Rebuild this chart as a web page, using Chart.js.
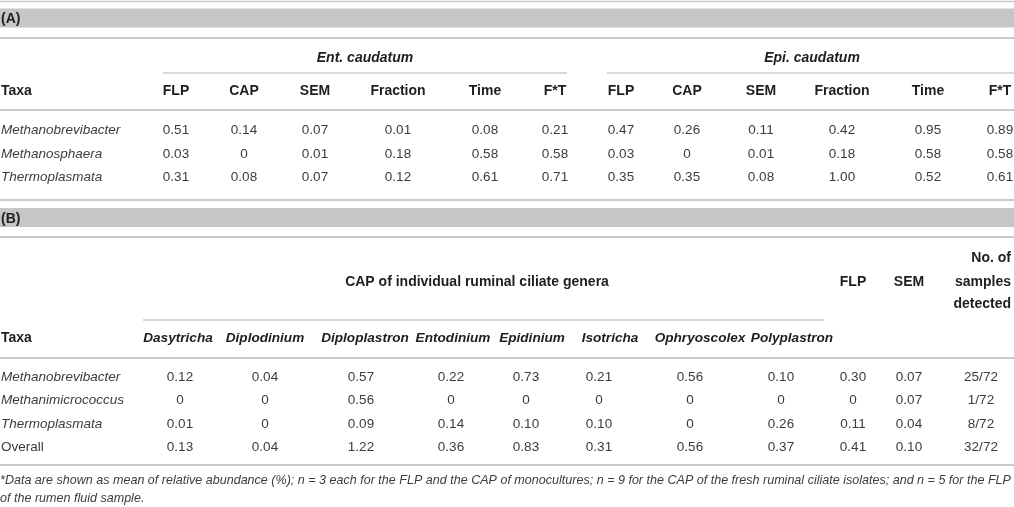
<!DOCTYPE html>
<html>
<head>
<meta charset="utf-8">
<script src="https://cdn.jsdelivr.net/npm/chart.js@4.4.1/dist/chart.umd.min.js"></script>
<style>
  html, body { margin: 0; padding: 0; background: #fff; }
  #wrap { width: 1014px; height: 507px; position: relative; }
</style>
</head>
<body>
<div id="wrap"><canvas id="tableChart"></canvas></div>
<script>
const taxaA = ["Methanobrevibacter", "Methanosphaera", "Thermoplasmata"];
const columnsA = ["FLP", "CAP", "SEM", "Fraction", "Time", "F*T"];
const groupsA = ["Ent. caudatum", "Epi. caudatum"];
const entCaudatum = [
    [0.51, 0.14, 0.07, 0.01, 0.08, 0.21],
    [0.03, 0, 0.01, 0.18, 0.58, 0.58],
    [0.31, 0.08, 0.07, 0.12, 0.61, 0.71]
];
const epiCaudatum = [
    [0.47, 0.26, 0.11, 0.42, 0.95, 0.89],
    [0.03, 0, 0.01, 0.18, 0.58, 0.58],
    [0.35, 0.35, 0.08, 1.00, 0.52, 0.61]
];

const taxaB = ["Methanobrevibacter", "Methanimicrococcus", "Thermoplasmata", "Overall"];
const genera = ["Dasytricha", "Diplodinium", "Diploplastron", "Entodinium", "Epidinium", "Isotricha", "Ophryoscolex", "Polyplastron"];
const capGenera = [
    [0.12, 0.04, 0.57, 0.22, 0.73, 0.21, 0.56, 0.10],
    [0, 0, 0.56, 0, 0, 0, 0, 0],
    [0.01, 0, 0.09, 0.14, 0.10, 0.10, 0, 0.26],
    [0.13, 0.04, 1.22, 0.36, 0.83, 0.31, 0.56, 0.37]
];
const flpB = [0.30, 0, 0.11, 0.41];
const semB = [0.07, 0.07, 0.04, 0.10];
const samplesDetected = [25, 1, 8, 32];
const samplesTotal = 72;

const footnote = [
    "*Data are shown as mean of relative abundance (%); n = 3 each for the FLP and the CAP of monocultures; n = 9 for the CAP of the fresh ruminal ciliate isolates; and n = 5 for the FLP",
    "of the rumen fluid sample."
];

// ---- layout ----
const W = 1014, H = 507;
const entX = [176, 244, 315, 398, 485, 555];
const epiX = [621, 687, 761, 842, 928, 1000];
const rowsA = [130, 154, 177];
const genusHeadX = [178, 265, 365, 453, 532, 610, 700, 792];
const genusX = [180, 265, 361, 451, 526, 599, 690, 781];
const flpX = 853, semX = 909, samplesX = 981, samplesHeadX = 1011;
const rowsB = [377, 400, 424, 447];

const FONT = "'Liberation Sans', Arial, sans-serif";
const styles = {
    head: { font: "bold 14px " + FONT, color: "#1e1e1e" },
    headIt: { font: "italic bold 14px " + FONT, color: "#1e1e1e" },
    genus: { font: "italic bold 13.6px " + FONT, color: "#1e1e1e" },
    body: { font: "13.5px " + FONT, color: "#3c3c3c" },
    bodyIt: { font: "italic 13.5px " + FONT, color: "#3c3c3c" },
    note: { font: "italic 11px " + FONT, color: "#3c3c3c" }
};

const fmt = v => v === 0 ? "0" : v.toFixed(2);

// a text group is a scatter dataset with hidden points; the plugin writes the text
function textSet(cells, style, align) {
    return {
        type: "scatter",
        data: cells,
        textStyle: style,
        textAlign: align || "center",
        pointRadius: 0,
        order: 0
    };
}

// a rule or band is a plain line dataset
function rule(x0, x1, y, width, color) {
    return {
        type: "line",
        data: [{ x: x0, y: y }, { x: x1, y: y }],
        borderColor: color,
        borderWidth: width,
        borderCapStyle: "butt",
        pointRadius: 0,
        fill: false,
        order: 5
    };
}

const datasets = [];

// rules and grey bands
datasets.push(rule(0, W, 1.5, 1.5, "#c9c9c9"));
datasets.push(rule(0, W, 18, 19, "#c5c6c8"));
datasets.push(rule(0, W, 38, 2, "#c9c9c9"));
datasets.push(rule(163, 567, 73, 1.5, "#cccccc"));
datasets.push(rule(607, W, 73, 1.5, "#cccccc"));
datasets.push(rule(0, W, 110, 2, "#c9c9c9"));
datasets.push(rule(0, W, 200, 2, "#c9c9c9"));
datasets.push(rule(0, W, 217.5, 19, "#c5c6c8"));
datasets.push(rule(0, W, 237, 2, "#c9c9c9"));
datasets.push(rule(143, 824, 320, 1.5, "#cccccc"));
datasets.push(rule(0, W, 358, 2, "#c9c9c9"));
datasets.push(rule(0, W, 465, 2, "#c9c9c9"));

// panel A
datasets.push(textSet([{ x: 1, y: 19.5, text: "(A)" }, { x: 1, y: 91, text: "Taxa" }], styles.head, "left"));
datasets.push(textSet([{ x: 365, y: 58, text: groupsA[0] }, { x: 812, y: 58, text: groupsA[1] }], styles.headIt));
datasets.push(textSet(columnsA.map((c, i) => ({ x: entX[i], y: 91, text: c }))
    .concat(columnsA.map((c, i) => ({ x: epiX[i], y: 91, text: c }))), styles.head));
datasets.push(textSet(taxaA.map((t, r) => ({ x: 1, y: rowsA[r], text: t })), styles.bodyIt, "left"));
const cellsA = [];
entCaudatum.forEach((row, r) => row.forEach((v, i) => cellsA.push({ x: entX[i], y: rowsA[r], text: fmt(v) })));
epiCaudatum.forEach((row, r) => row.forEach((v, i) => cellsA.push({ x: epiX[i], y: rowsA[r], text: fmt(v) })));
datasets.push(textSet(cellsA, styles.body));

// panel B
datasets.push(textSet([{ x: 1, y: 219, text: "(B)" }, { x: 1, y: 338, text: "Taxa" }], styles.head, "left"));
datasets.push(textSet([
    { x: 477, y: 282, text: "CAP of individual ruminal ciliate genera" },
    { x: flpX, y: 282, text: "FLP" },
    { x: semX, y: 282, text: "SEM" }
], styles.head));
datasets.push(textSet([
    { x: samplesHeadX, y: 258, text: "No. of" },
    { x: samplesHeadX, y: 282, text: "samples" },
    { x: samplesHeadX, y: 304, text: "detected" }
], styles.head, "right"));
datasets.push(textSet(genera.map((g, i) => ({ x: genusHeadX[i], y: 338, text: g })), styles.genus));
datasets.push(textSet(taxaB.slice(0, 3).map((t, r) => ({ x: 1, y: rowsB[r], text: t })), styles.bodyIt, "left"));
datasets.push(textSet([{ x: 1, y: rowsB[3], text: taxaB[3] }], styles.body, "left"));
const cellsB = [];
capGenera.forEach((row, r) => row.forEach((v, i) => cellsB.push({ x: genusX[i], y: rowsB[r], text: fmt(v) })));
rowsB.forEach((y, r) => {
    cellsB.push({ x: flpX, y: y, text: fmt(flpB[r]) });
    cellsB.push({ x: semX, y: y, text: fmt(semB[r]) });
    cellsB.push({ x: samplesX, y: y, text: samplesDetected[r] + "/" + samplesTotal });
});
datasets.push(textSet(cellsB, styles.body));

// footnote
datasets.push(textSet([{ x: 0, y: 481, text: footnote[0], fit: 1011 }, { x: 0, y: 499, text: footnote[1] }], styles.note, "left"));

const cellText = {
    id: "cellText",
    afterDatasetsDraw(chart) {
        const ctx = chart.ctx;
        let noteScale = 1;
        chart.data.datasets.forEach((ds, di) => {
            if (!ds.textStyle) return;
            const meta = chart.getDatasetMeta(di);
            ctx.save();
            ctx.fillStyle = ds.textStyle.color;
            ctx.textAlign = ds.textAlign;
            ctx.textBaseline = "middle";
            meta.data.forEach((el, i) => {
                const cell = ds.data[i];
                ctx.font = ds.textStyle.font;
                if (cell.fit) {
                    noteScale = cell.fit / ctx.measureText(cell.text).width;
                }
                if (ds.textStyle === styles.note) {
                    ctx.font = "italic " + (11 * noteScale).toFixed(2) + "px " + FONT;
                }
                ctx.fillText(cell.text, el.x, el.y);
            });
            ctx.restore();
        });
    }
};

new Chart(document.getElementById("tableChart"), {
    data: { datasets: datasets },
    options: {
        responsive: true,
        maintainAspectRatio: false,
        animation: false,
        events: [],
        layout: { padding: 0 },
        plugins: { legend: { display: false }, tooltip: { enabled: false } },
        scales: {
            x: { type: "linear", min: 0, max: W, display: false },
            y: { type: "linear", min: 0, max: H, reverse: true, display: false }
        }
    },
    plugins: [cellText]
});
</script>
</body>
</html>
